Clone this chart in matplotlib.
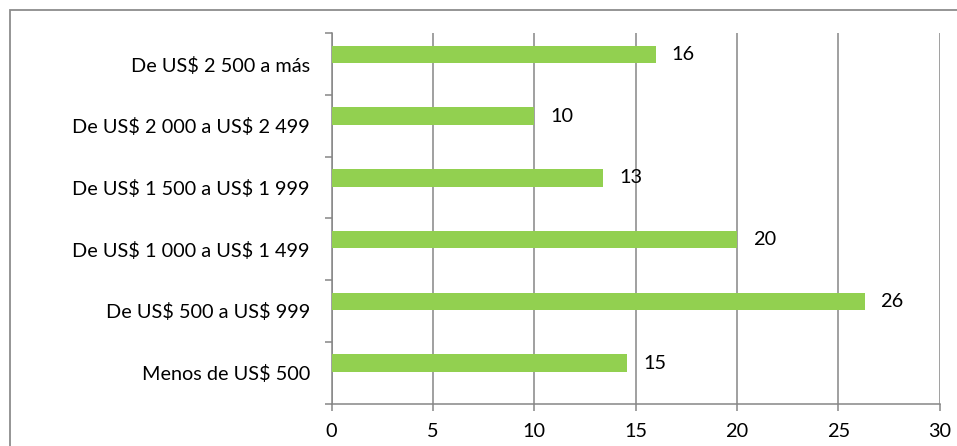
import matplotlib
matplotlib.use("Agg")
import matplotlib.pyplot as plt
from matplotlib.patches import Rectangle
from matplotlib.ticker import FixedLocator

plt.rcParams["text.parse_math"] = False

# Income brackets (bottom to top) and share of respondents (%)
categories = [
    "Menos de US$ 500",
    "De US$ 500 a US$ 999",
    "De US$ 1 000 a US$ 1 499",
    "De US$ 1 500 a US$ 1 999",
    "De US$ 2 000 a US$ 2 499",
    "De US$ 2 500 a más",
]
values = [14.6, 26.3, 20.0, 13.4, 10.0, 16.0]
x_ticks = [0, 5, 10, 15, 20, 25, 30]

BAR_COLOR = "#92D050"
GRID_COLOR = "#868686"
FONT = "Lato"
FS = 14.3

fig = plt.figure(figsize=(9.57, 4.46), dpi=100)
fig.patch.set_facecolor("white")

# outer chart frame (runs off the right and bottom edges)
fig.patches.append(Rectangle((9.7 / 957, -0.05), 1.1, 1 - 10.3 / 446 + 0.05,
                             transform=fig.transFigure, fill=False,
                             edgecolor="#8c8c8c", linewidth=1.3))

ax = fig.add_axes([331.5 / 957, 1 - 403.5 / 446, (939.5 - 331.5) / 957, (403.5 - 33.3) / 446])

pos = list(range(len(categories)))
bar_pos = [p + 0.155 for p in pos]
bars = ax.barh(bar_pos, values, height=0.285, color=BAR_COLOR, zorder=3)

for y, v in zip(bar_pos, values):
    ax.annotate(f"{v:.0f}", xy=(v, y), xytext=(11.5, 0), textcoords="offset points",
                ha="left", va="center", fontsize=FS, family=FONT, color="black", zorder=4)

ax.set_xlim(0, 30)
ax.set_ylim(-0.5, len(categories) - 0.5)

ax.xaxis.set_major_locator(FixedLocator(x_ticks))
ax.set_xticklabels([str(t) for t in x_ticks], family=FONT, fontsize=FS)
ax.grid(axis="x", color=GRID_COLOR, linewidth=1.1, zorder=0)

ax.set_yticks(pos)
ax.set_yticklabels(categories, family=FONT, fontsize=FS)
ax.yaxis.set_minor_locator(FixedLocator([p - 0.5 for p in pos] + [len(pos) - 0.5]))

ax.tick_params(axis="y", which="major", length=0, pad=15.5)
ax.tick_params(axis="y", which="minor", length=5, width=1.1, color=GRID_COLOR, direction="out")
ax.tick_params(axis="x", which="major", length=5, width=1.1, color=GRID_COLOR, direction="out", pad=9)

for side in ("top", "right"):
    ax.spines[side].set_visible(False)
for side in ("left", "bottom"):
    ax.spines[side].set_color(GRID_COLOR)
    ax.spines[side].set_linewidth(1.1)

fig.savefig("out.png", dpi=100, facecolor="white")
